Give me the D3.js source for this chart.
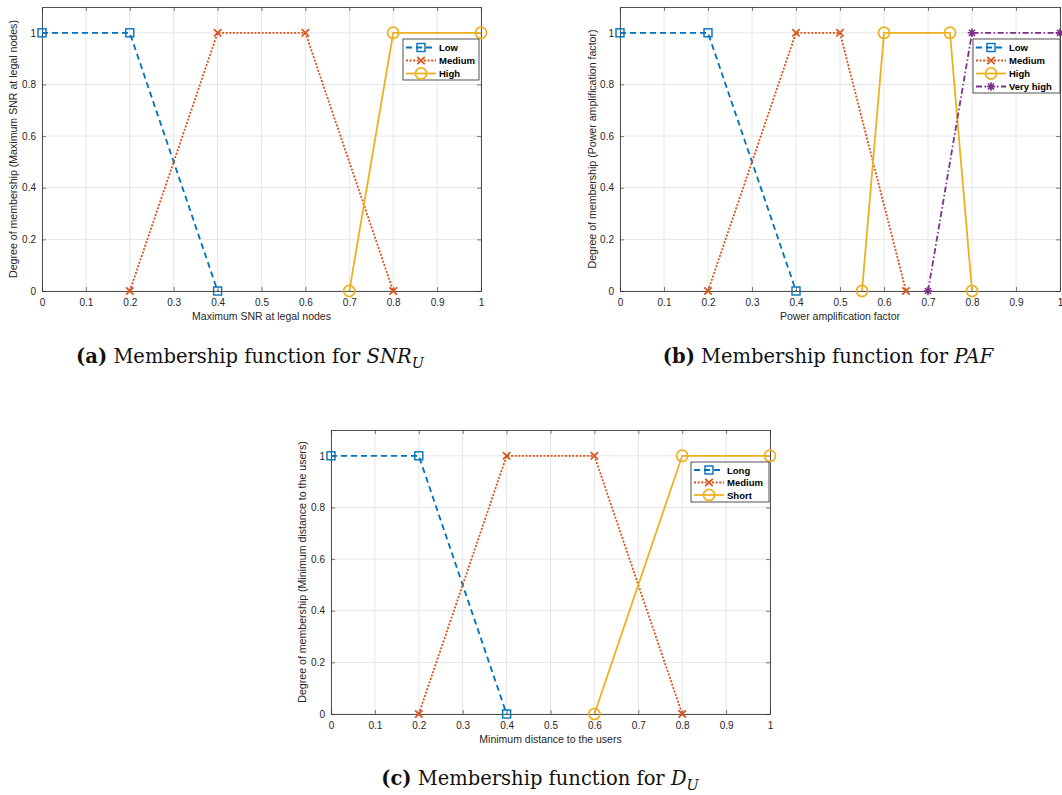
<!DOCTYPE html>
<html><head><meta charset="utf-8">
<script src="https://cdn.jsdelivr.net/npm/d3@7/dist/d3.min.js"></script>
<style>
body{margin:0;background:#fff;}
svg{display:block;}
.tick text{font-family:Arial,"Liberation Sans",sans-serif;}
</style></head>
<body>
<svg id="chart" width="1062" height="795"></svg>
<script>
// ---------- data ----------
const xTicks = [0,0.1,0.2,0.3,0.4,0.5,0.6,0.7,0.8,0.9,1];
const yTicks = [0,0.2,0.4,0.6,0.8,1];

const snrLowX = [0,0.2,0.4],            snrLowY = [1,1,0];
const snrMedX = [0.2,0.4,0.6,0.8],      snrMedY = [0,1,1,0];
const snrHighX = [0.7,0.8,1],           snrHighY = [0,1,1];

const pafLowX = [0,0.2,0.4],            pafLowY = [1,1,0];
const pafMedX = [0.2,0.4,0.5,0.65],     pafMedY = [0,1,1,0];
const pafHighX = [0.55,0.6,0.75,0.8],   pafHighY = [0,1,1,0];
const pafVHighX = [0.7,0.8,1],          pafVHighY = [0,1,1];

const dLongX = [0,0.2,0.4],             dLongY = [1,1,0];
const dMedX = [0.2,0.4,0.6,0.8],        dMedY = [0,1,1,0];
const dShortX = [0.6,0.8,1],            dShortY = [0,1,1];

const labelsA = ["Low","Medium","High"];
const labelsB = ["Low","Medium","High","Very high"];
const labelsC = ["Long","Medium","Short"];

// ---------- styles ----------
const colors = ["#0072BD","#D95319","#EDB120","#7E2F8E"];
const dashes = ["6,4","2,1.6",null,"6,2.5,1.5,2.5"];
const markers = ["square","x","circle","asterisk"];

const svg = d3.select("#chart");

function zip(xs, ys){ return xs.map((x,i)=>[x, ys[i]]); }

function drawMarker(g, type, x, y, color){
  if(type==="square"){
    g.append("rect").attr("x",x-4).attr("y",y-4).attr("width",8).attr("height",8)
      .attr("fill","none").attr("stroke",color).attr("stroke-width",1.4);
  } else if(type==="x"){
    const s=3.7;
    g.append("path").attr("d",`M${x-s},${y-s}L${x+s},${y+s}M${x-s},${y+s}L${x+s},${y-s}`)
      .attr("stroke",color).attr("stroke-width",1.7).attr("fill","none");
  } else if(type==="circle"){
    g.append("circle").attr("cx",x).attr("cy",y).attr("r",5.6)
      .attr("fill","none").attr("stroke",color).attr("stroke-width",1.7);
  } else if(type==="asterisk"){
    const s=4.3, d=s*0.707;
    g.append("path").attr("d",`M${x-s},${y}L${x+s},${y}M${x},${y-s}L${x},${y+s}M${x-d},${y-d}L${x+d},${y+d}M${x-d},${y+d}L${x+d},${y-d}`)
      .attr("stroke",color).attr("stroke-width",1.6).attr("fill","none");
  }
}

function panel(opt){
  const {left,right,top,bottom,series,xlabel,ylabel,yLabelX,legend} = opt;
  const x = d3.scaleLinear().domain([0,1]).range([left,right]);
  const y = d3.scaleLinear().domain([0,1.1]).range([bottom,top]);
  const g = svg.append("g");
  // grid
  g.append("g").selectAll("line").data(xTicks).join("line")
    .attr("x1",d=>x(d)).attr("x2",d=>x(d)).attr("y1",top).attr("y2",bottom)
    .attr("stroke","#e6e6e6").attr("stroke-width",1);
  g.append("g").selectAll("line").data(yTicks).join("line")
    .attr("x1",left).attr("x2",right).attr("y1",d=>y(d)).attr("y2",d=>y(d))
    .attr("stroke","#e6e6e6").attr("stroke-width",1);
  // axes
  const ax = g.append("g").attr("transform",`translate(0,${bottom})`)
    .call(d3.axisBottom(x).tickValues(xTicks).tickFormat(d3.format("~g")).tickSizeInner(-4).tickSizeOuter(0).tickPadding(8));
  const ay = g.append("g").attr("transform",`translate(${left},0)`)
    .call(d3.axisLeft(y).tickValues(yTicks).tickFormat(d3.format("~g")).tickSizeInner(-4).tickSizeOuter(0).tickPadding(6));
  const axT = g.append("g").attr("transform",`translate(0,${top})`)
    .call(d3.axisTop(x).tickValues(xTicks).tickFormat("").tickSizeInner(-4).tickSizeOuter(0));
  const ayR = g.append("g").attr("transform",`translate(${right},0)`)
    .call(d3.axisRight(y).tickValues(yTicks).tickFormat("").tickSizeInner(-4).tickSizeOuter(0));
  [ax,ay,axT,ayR].forEach(a=>{
    a.selectAll("path.domain").attr("stroke","#262626").attr("stroke-width",0.8);
    a.selectAll(".tick line").attr("stroke","#262626").attr("stroke-width",0.6);
    a.selectAll(".tick text").attr("fill","#262626").attr("font-size","10px");
  });
  // labels
  g.append("text").attr("x",(left+right)/2).attr("y",bottom+29)
    .attr("text-anchor","middle").attr("font-family","Arial, 'Liberation Sans', sans-serif")
    .attr("font-size","10.5px").attr("fill","#262626").text(xlabel);
  g.append("text").attr("transform",`translate(${yLabelX},${(top+bottom)/2}) rotate(-90)`)
    .attr("text-anchor","middle").attr("font-family","Arial, 'Liberation Sans', sans-serif")
    .attr("font-size","10.6px").attr("fill","#262626").text(ylabel);
  // series
  const line = d3.line().x(d=>x(d[0])).y(d=>y(d[1]));
  series.forEach((s,i)=>{
    g.append("path").datum(s.pts).attr("d",line).attr("fill","none")
      .attr("stroke",colors[s.c]).attr("stroke-width",1.8)
      .attr("stroke-dasharray",dashes[s.c]);
    s.pts.forEach(p=>drawMarker(g,markers[s.c],x(p[0]),y(p[1]),colors[s.c]));
  });
  // legend
  const L = legend;
  const lg = g.append("g");
  lg.append("rect").attr("x",L.x).attr("y",L.y).attr("width",L.w).attr("height",L.h)
    .attr("fill","#fff").attr("stroke","#262626").attr("stroke-width",0.8);
  series.forEach((s,i)=>{
    const yy = L.y + L.first + i*L.step;
    const x0 = L.x+3, x1 = L.x+33;
    lg.append("line").attr("x1",x0).attr("x2",x1).attr("y1",yy).attr("y2",yy)
      .attr("stroke",colors[s.c]).attr("stroke-width",1.8).attr("stroke-dasharray",dashes[s.c]);
    drawMarker(lg,markers[s.c],(x0+x1)/2,yy,colors[s.c]);
    lg.append("text").attr("x",x1+3).attr("y",yy+3.5)
      .attr("font-family","Arial, 'Liberation Sans', sans-serif").attr("font-weight","bold")
      .attr("font-size","9.5px").attr("fill","#000").text(s.label);
  });
}

panel({left:42,right:481,top:7,bottom:291,
  series:[{pts:zip(snrLowX,snrLowY),c:0,label:labelsA[0]},
          {pts:zip(snrMedX,snrMedY),c:1,label:labelsA[1]},
          {pts:zip(snrHighX,snrHighY),c:2,label:labelsA[2]}],
  xlabel:"Maximum SNR at legal nodes",
  ylabel:"Degree of membership (Maximum SNR at legal nodes)",
  yLabelX:17,
  legend:{x:403,y:39,w:76,h:41,first:8.5,step:13}});

panel({left:620,right:1060,top:7,bottom:291,
  series:[{pts:zip(pafLowX,pafLowY),c:0,label:labelsB[0]},
          {pts:zip(pafMedX,pafMedY),c:1,label:labelsB[1]},
          {pts:zip(pafHighX,pafHighY),c:2,label:labelsB[2]},
          {pts:zip(pafVHighX,pafVHighY),c:3,label:labelsB[3]}],
  xlabel:"Power amplification factor",
  ylabel:"Degree of membership (Power amplification factor)",
  yLabelX:596,
  legend:{x:973,y:39,w:87,h:54,first:8.5,step:13}});

panel({left:331,right:770,top:430,bottom:714,
  series:[{pts:zip(dLongX,dLongY),c:0,label:labelsC[0]},
          {pts:zip(dMedX,dMedY),c:1,label:labelsC[1]},
          {pts:zip(dShortX,dShortY),c:2,label:labelsC[2]}],
  xlabel:"Minimum distance to the users",
  ylabel:"Degree of membership (Minimum distance to the users)",
  yLabelX:306,
  legend:{x:691,y:462,w:78,h:40,first:8,step:12.5}});

// captions
function caption(cx, cy, letter, main, it, sub){
  const t = svg.append("text").attr("x",cx).attr("y",cy).attr("text-anchor","middle")
    .attr("font-family","'DejaVu Serif', 'Liberation Serif', serif").attr("font-size","19.5px").attr("fill","#111");
  t.append("tspan").attr("font-weight","bold").text("("+letter+")");
  t.append("tspan").text(" "+main+" ");
  t.append("tspan").attr("font-style","italic").text(it);
  if(sub) t.append("tspan").attr("font-style","italic").attr("font-size","14.5px").attr("dy",5).text(sub);
}
caption(250,363,"a","Membership function for","SNR","U");
caption(828,363,"b","Membership function for","PAF",null);
caption(540,785,"c","Membership function for","D","U");
</script>
</body></html>
